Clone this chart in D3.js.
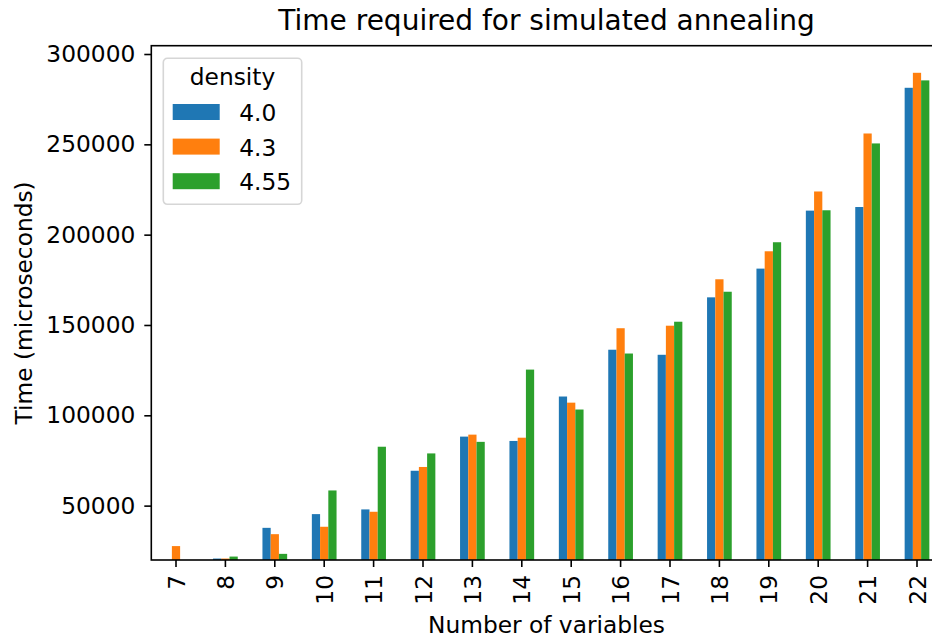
<!DOCTYPE html>
<html>
<head>
<meta charset="utf-8">
<script src="https://cdn.jsdelivr.net/npm/d3@7"></script>
<style>
  body { margin: 0; background: #fff; }
  svg { display: block; font-family: "DejaVu Sans", sans-serif; }
  .axis text { font-family: "DejaVu Sans", sans-serif; font-size: 23.3px; fill: #000; }
  .axis line { stroke: #000; stroke-width: 1.6; }
  .axis path { display: none; }
</style>
</head>
<body>
<svg id="chart" width="932" height="641"></svg>
<script>
// data
const variables = [7, 8, 9, 10, 11, 12, 13, 14, 15, 16, 17, 18, 19, 20, 21, 22];
const densities = ["4.0", "4.3", "4.55"];
const time40 = [null, 20700, 37700, 45300, 47900, 69300, 88200, 85800, 110400, 136300, 133500, 165300, 181200, 213300, 215300, 281300];
const time43 = [27600, 20700, 34200, 38300, 46600, 71400, 89300, 87600, 107000, 148200, 149600, 175300, 190800, 223900, 256000, 289600];
const time455 = [null, 21800, 23300, 58400, 82600, 78900, 85300, 125300, 103200, 134200, 151800, 168400, 195800, 213500, 250500, 285400];
const yTicks = [50000, 100000, 150000, 200000, 250000, 300000];
const colors = ["#1f77b4", "#ff7f0e", "#2ca02c"];

const series = [time40, time43, time455];

const M = { left: 151.3, right: 941.7, top: 45.7, bottom: 560 };
const FS = 23.3;

const svg = d3.select("#chart");

const x = d3.scaleBand()
    .domain(variables)
    .range([M.left, M.right])
    .padding(0);

const y = d3.scaleLinear()
    .domain([19900, 304600])
    .range([M.bottom, M.top]);

const barW = x.bandwidth() * 0.5 / 3;

svg.append("defs").append("clipPath")
    .attr("id", "plot-clip")
    .append("rect")
    .attr("x", M.left)
    .attr("y", M.top)
    .attr("width", M.right - M.left)
    .attr("height", M.bottom - M.top);

// bars
const bars = svg.append("g").attr("clip-path", "url(#plot-clip)");
series.forEach((vals, si) => {
    bars.append("g")
        .attr("fill", colors[si])
        .selectAll("rect")
        .data(variables.map((v, i) => ({ v, val: vals[i] })).filter(d => d.val != null))
        .join("rect")
        .attr("x", d => x(d.v) + x.bandwidth() / 2 + (si - 1) * barW - barW / 2)
        .attr("width", barW)
        .attr("y", d => y(d.val))
        .attr("height", d => M.bottom - y(d.val));
});

// axes
const xAxis = svg.append("g")
    .attr("class", "axis")
    .attr("transform", `translate(0,${M.bottom})`)
    .call(d3.axisBottom(x).tickSize(7).tickSizeOuter(0));
xAxis.attr("font-family", null).attr("font-size", null);
xAxis.selectAll("text")
    .attr("transform", "translate(0,15) rotate(-90)")
    .attr("text-anchor", "end")
    .attr("dominant-baseline", "central")
    .attr("x", 0)
    .attr("y", 0)
    .attr("dy", null);

const yAxis = svg.append("g")
    .attr("class", "axis")
    .attr("transform", `translate(${M.left},0)`)
    .call(d3.axisLeft(y).tickValues(yTicks).tickSize(7).tickPadding(9).tickFormat(d3.format("d")));
yAxis.attr("font-family", null).attr("font-size", null);

// spines
svg.append("rect")
    .attr("x", M.left)
    .attr("y", M.top)
    .attr("width", M.right - M.left)
    .attr("height", M.bottom - M.top)
    .attr("fill", "none")
    .attr("stroke", "#000")
    .attr("stroke-width", 1.6);

// titles
svg.append("text")
    .attr("x", (M.left + M.right) / 2)
    .attr("y", 30)
    .attr("text-anchor", "middle")
    .attr("font-size", 28)
    .text("Time required for simulated annealing");

svg.append("text")
    .attr("x", (M.left + M.right) / 2)
    .attr("y", 633)
    .attr("text-anchor", "middle")
    .attr("font-size", FS)
    .text("Number of variables");

svg.append("text")
    .attr("transform", `translate(32,${(M.top + M.bottom) / 2}) rotate(-90)`)
    .attr("text-anchor", "middle")
    .attr("font-size", FS)
    .text("Time (microseconds)");

// legend
const legend = svg.append("g").attr("transform", "translate(163.3,58.3)");
legend.append("rect")
    .attr("width", 138.4)
    .attr("height", 146)
    .attr("rx", 4)
    .attr("fill", "rgba(255,255,255,0.8)")
    .attr("stroke", "#d6d6d6")
    .attr("stroke-width", 1.6);
legend.append("text")
    .attr("x", 69.2)
    .attr("y", 27)
    .attr("text-anchor", "middle")
    .attr("font-size", FS)
    .text("density");
densities.forEach((d, i) => {
    const row = legend.append("g").attr("transform", `translate(0,${i * 34.6})`);
    row.append("rect")
        .attr("x", 9.4)
        .attr("y", 45.7)
        .attr("width", 47)
        .attr("height", 16)
        .attr("fill", colors[i]);
    row.append("text")
        .attr("x", 76)
        .attr("y", 62.7)
        .attr("font-size", FS)
        .text(d);
});
</script>
</body>
</html>
